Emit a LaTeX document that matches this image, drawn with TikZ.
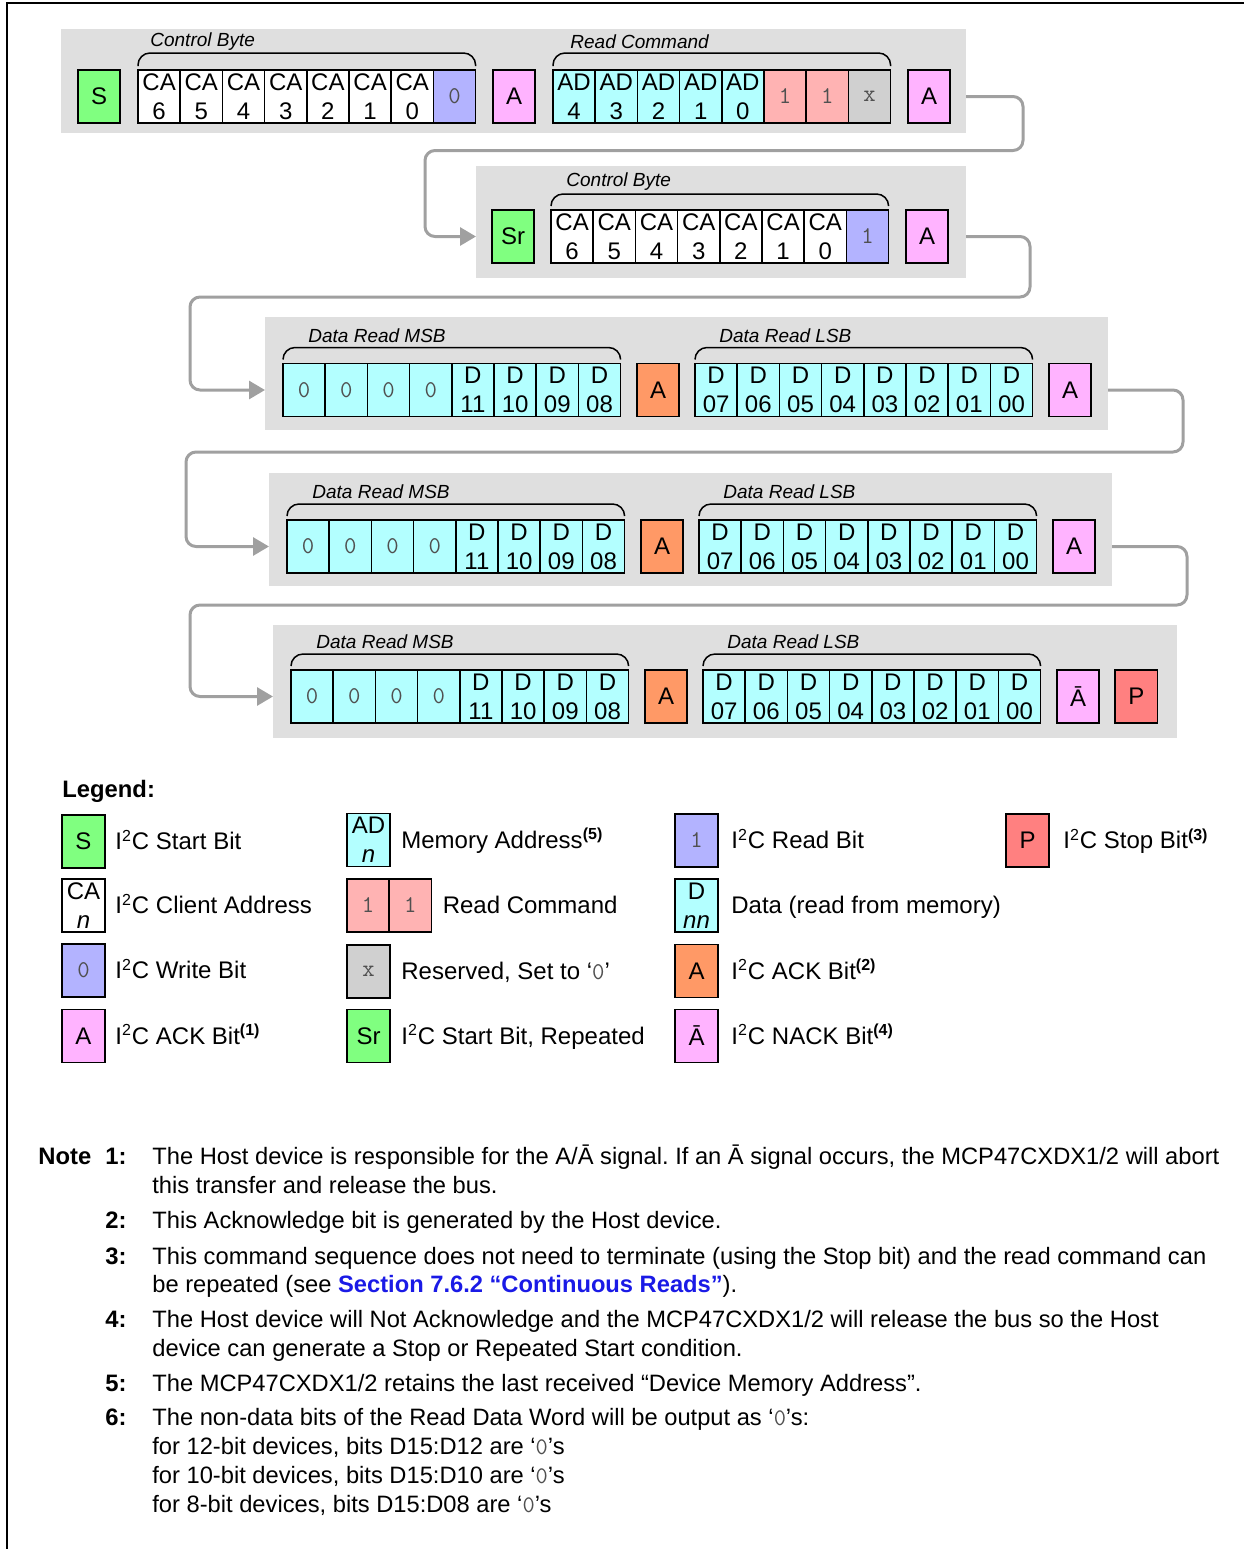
\documentclass[tikz,border=0pt]{standalone}
\usepackage{fontspec}
\setmainfont{Liberation Sans}
\usepackage{xcolor}
\usepackage{tikz}
\usetikzlibrary{arrows.meta, positioning}
\frenchspacing
\definecolor{bandgray}{HTML}{DFDFDF}
\definecolor{startgreen}{HTML}{80FF80}
\definecolor{rwblue}{HTML}{B3B3FF}
\definecolor{ackpink}{HTML}{FFB3FF}
\definecolor{hostorange}{HTML}{FF9966}
\definecolor{addrcyan}{HTML}{B3FFFF}
\definecolor{cmdsalmon}{HTML}{FFB3B3}
\definecolor{rsvgray}{HTML}{D0D0D0}
\definecolor{stopred}{HTML}{FF8080}
\definecolor{flowgray}{HTML}{A0A0A0}
\definecolor{monogray}{HTML}{505050}
\definecolor{linkblue}{HTML}{1A1AE6}
\tikzstyle{bit} = [rectangle, draw=black, line width=0.8pt,
  inner sep=0pt, outer sep=0pt, anchor=west, align=center,
  minimum width=21.1pt, minimum height=26.5pt,
  font=\fontsize{12}{14.5}\selectfont]
\tikzstyle{monobit} = [bit, text=monogray, font=\ttfamily\fontsize{12}{14.5}\selectfont]
\tikzstyle{startbit} = [bit, fill=startgreen]
\tikzstyle{cabit} = [bit, fill=white]
\tikzstyle{rwbit} = [monobit, fill=rwblue]
\tikzstyle{ackbit} = [bit, fill=ackpink]
\tikzstyle{hostack} = [bit, fill=hostorange]
\tikzstyle{addrbit} = [bit, fill=addrcyan]
\tikzstyle{databit} = [bit, fill=addrcyan]
\tikzstyle{zerobit} = [monobit, fill=addrcyan]
\tikzstyle{cmdbit} = [monobit, fill=cmdsalmon]
\tikzstyle{rsvbit} = [monobit, fill=rsvgray]
\tikzstyle{stopbit} = [bit, fill=stopred]
\tikzstyle{band} = [rectangle, fill=bandgray, inner sep=0pt, outer sep=0pt, anchor=north west]
\tikzstyle{brace} = [line width=0.75pt, rounded corners=6pt]
\tikzstyle{field} = [inner sep=0pt, anchor=west, font=\itshape\fontsize{9.5}{11}\selectfont]
\tikzstyle{flow} = [-{Triangle[length=8pt, width=9pt]}, color=flowgray, line width=1.5pt, rounded corners=5pt]
\tikzstyle{legtext} = [inner sep=0pt, anchor=base west, font=\fontsize{12}{14}\selectfont]
\tikzstyle{notenum} = [inner sep=0pt, anchor=base west, font=\bfseries\fontsize{11.9}{14}\selectfont]
\tikzstyle{notetext} = [inner sep=0pt, anchor=base west, font=\fontsize{11.85}{14}\selectfont]

\begin{document}
\begin{tikzpicture}[x=0.5pt, y=-0.5pt]
  \useasboundingbox (0,0) rectangle (1244,1549);
  \draw[line width=1pt] (7,1549) -- (7,3) -- (1244,3);

  % Control byte (write) + read command
  \node[band, minimum width=452.5pt, minimum height=52pt] (row1) at (61,29) {};
  \node[startbit] (s) at (78,96.5) {S};
  \foreach \n [count=\i from 0] in {6,5,4,3,2,1,0}
    \node[cabit] (ca\n) at ({138+42.2*\i},96.5) {CA\\\n};
  \node[rwbit, right=0pt of ca0] (wr) {0};
  \node[ackbit] (ack1) at (493,96.5) {A};
  \foreach \n [count=\i from 0] in {4,3,2,1,0}
    \node[addrbit] (ad\n) at ({553+42.2*\i},96.5) {AD\\\n};
  \node[cmdbit, right=0pt of ad0] (cmda) {1};
  \node[cmdbit, right=0pt of cmda] (cmdb) {1};
  \node[rsvbit, right=0pt of cmdb] (rsv) {x};
  \node[ackbit] (ack2) at (908,96.5) {A};
  \draw[brace] ([yshift=2pt]ca6.north west) |- ([yshift=8.5pt]wr.north east) -- ([yshift=2pt]wr.north east);
  \node[field] at ([xshift=6pt,yshift=14pt]ca6.north west) {Control Byte};
  \draw[brace] ([yshift=2pt]ad4.north west) |- ([yshift=8.5pt]rsv.north east) -- ([yshift=2pt]rsv.north east);
  \node[field] at ([xshift=8.5pt,yshift=14pt]ad4.north west) {Read Command};

  % Control byte (read)
  \node[band, minimum width=245pt, minimum height=56pt] (row2) at (476,166) {};
  \node[startbit] (sr) at (492,236.5) {Sr};
  \foreach \n [count=\i from 0] in {6,5,4,3,2,1,0}
    \node[cabit] (rca\n) at ({551+42.2*\i},236.5) {CA\\\n};
  \node[rwbit, right=0pt of rca0] (rd) {1};
  \node[ackbit] (ack3) at (906,236.5) {A};
  \draw[brace] ([yshift=2pt]rca6.north west) |- ([yshift=8pt]rd.north east) -- ([yshift=2pt]rd.north east);
  \node[field] at ([xshift=7.5pt,yshift=14pt]rca6.north west) {Control Byte};

  % Data words
  \foreach \row/\dx/\y/\ytop/\w in {3/0/390/317/421.5pt, 4/4/546.5/473/421.5pt, 5/8/696.5/625/452pt} {
    \node[band, minimum width=\w, minimum height=56.5pt] (row\row) at ({265+\dx},\ytop) {};
    \foreach \i in {0,...,3}
      \node[zerobit] (msb\row-\i) at ({283+\dx+42.2*\i},\y) {0};
    \foreach \n [count=\i from 4] in {11,10,09,08}
      \node[databit] (msb\row-\i) at ({283+\dx+42.2*\i},\y) {D\\\n};
    \node[hostack] (hack\row) at ({637+\dx},\y) {A};
    \foreach \n [count=\i from 0] in {07,06,05,04,03,02,01,00}
      \node[databit] (lsb\row-\i) at ({695+\dx+42.2*\i},\y) {D\\\n};
    \draw[brace] ([yshift=2pt]msb\row-0.north west) |- ([yshift=8pt]msb\row-7.north east) -- ([yshift=2pt]msb\row-7.north east);
    \node[field] at ([xshift=12.5pt,yshift=14pt]msb\row-0.north west) {Data Read MSB};
    \draw[brace] ([yshift=2pt]lsb\row-0.north west) |- ([yshift=8pt]lsb\row-7.north east) -- ([yshift=2pt]lsb\row-7.north east);
    \node[field] at ([xshift=12pt,yshift=14pt]lsb\row-0.north west) {Data Read LSB};
  }
  \node[ackbit] (ackp3) at (1049,390) {A};
  \node[ackbit] (ackp4) at (1053,546.5) {A};
  \node[ackbit] (nack5) at (1057,696.5) {Ā};
  \node[stopbit, right=8pt of nack5] (stop) {P};

  % Flow between rows
  \draw[flow] (row1.east |- ack2) -- ++(57,0) -- ++(0,54) -- ++(-598,0) |- (row2.west |- sr);
  \draw[flow] (row2.east |- ack3) -- ++(64,0) -- ++(0,60.5) -- ++(-840,0) |- (row3.west |- msb3-0);
  \draw[flow] (row3.east |- ackp3) -- ++(75,0) -- ++(0,62) -- ++(-997,0) |- (row4.west |- msb4-0);
  \draw[flow] (row4.east |- ackp4) -- ++(75,0) -- ++(0,58.5) -- ++(-997,0) |- (row5.west |- msb5-0);

  % Legend
  \node[notenum] (legend) at (62,797) {Legend:};
  \node[startbit, minimum width=21.5pt] (ls) at (62,841.5) {S};
  \node[legtext] at ([xshift=5pt,yshift=-4.2pt]ls.east) {I\textsuperscript{2}C Start Bit};
  \node[cabit, minimum width=21.5pt] (lca) at (62,905.5) {CA\\\textit{n}};
  \node[legtext] at ([xshift=5pt,yshift=-4.2pt]lca.east) {I\textsuperscript{2}C Client Address};
  \node[rwbit, minimum width=21.5pt] (lwr) at (62,970.5) {0};
  \node[legtext] at ([xshift=5pt,yshift=-4.2pt]lwr.east) {I\textsuperscript{2}C Write Bit};
  \node[ackbit, minimum width=21.5pt] (lack) at (62,1036) {A};
  \node[legtext] at ([xshift=5pt,yshift=-4.2pt]lack.east) {I\textsuperscript{2}C ACK Bit\textsuperscript{\textbf{(1)}}};

  \node[addrbit, minimum width=21.5pt] (lad) at (347,840) {AD\\\textit{n}};
  \node[legtext] at ([xshift=5.5pt,yshift=-4.2pt]lad.east) {Memory Address\textsuperscript{\textbf{(5)}}};
  \node[cmdbit] (lcmda) at (347,905.5) {1};
  \node[cmdbit, right=0pt of lcmda] (lcmdb) {1};
  \node[legtext] at ([xshift=5.5pt,yshift=-4.2pt]lcmdb.east) {Read Command};
  \node[rsvbit, minimum width=21.5pt] (lrsv) at (347,971.5) {x};
  \node[legtext] at ([xshift=5.5pt,yshift=-4.2pt]lrsv.east) {Reserved, Set to ‘\texttt{\color{monogray}0}’};
  \node[startbit, minimum width=21.5pt] (lsr) at (347,1036) {Sr};
  \node[legtext] at ([xshift=5.5pt,yshift=-4.2pt]lsr.east) {I\textsuperscript{2}C Start Bit, Repeated};

  \node[rwbit, minimum width=21.5pt] (lrd) at (675,840.5) {1};
  \node[legtext] at ([xshift=6.5pt,yshift=-4.2pt]lrd.east) {I\textsuperscript{2}C Read Bit};
  \node[databit, minimum width=21.5pt] (ldata) at (675,905.5) {D\\\textit{nn}};
  \node[legtext] at ([xshift=6.5pt,yshift=-4.2pt]ldata.east) {Data (read from memory)};
  \node[hostack, minimum width=21.5pt] (lhack) at (675,971) {A};
  \node[legtext] at ([xshift=6.5pt,yshift=-4.2pt]lhack.east) {I\textsuperscript{2}C ACK Bit\textsuperscript{\textbf{(2)}}};
  \node[ackbit, minimum width=21.5pt] (lnack) at (675,1036) {Ā};
  \node[legtext] at ([xshift=6.5pt,yshift=-4.2pt]lnack.east) {I\textsuperscript{2}C NACK Bit\textsuperscript{\textbf{(4)}}};

  \node[stopbit, minimum width=21.5pt] (lstop) at (1006,840.5) {P};
  \node[legtext] at ([xshift=7pt,yshift=-4.2pt]lstop.east) {I\textsuperscript{2}C Stop Bit\textsuperscript{\textbf{(3)}}};

  % Notes
  \node[notenum] (note) at (38,1164) {Note};
  \node[notenum] (k1) at (105,1164) {1:};
  \node[notetext] (t1a) at (152,1164) {The Host device is responsible for the A/Ā signal. If an Ā signal occurs, the MCP47CXDX1/2 will abort};
  \node[notetext] (t1b) at (152,1193) {this transfer and release the bus.};
  \node[notenum] (k2) at (105,1228) {2:};
  \node[notetext] (t2) at (152,1228) {This Acknowledge bit is generated by the Host device.};
  \node[notenum] (k3) at (105,1264) {3:};
  \node[notetext] (t3a) at (152,1264) {This command sequence does not need to terminate (using the Stop bit) and the read command can};
  \node[notetext] (t3b) at (152,1292) {be repeated (see \textcolor{linkblue}{\textbf{Section 7.6.2 “Continuous Reads”}}).};
  \node[notenum] (k4) at (105,1327) {4:};
  \node[notetext] (t4a) at (152,1327) {The Host device will Not Acknowledge and the MCP47CXDX1/2 will release the bus so the Host};
  \node[notetext] (t4b) at (152,1356) {device can generate a Stop or Repeated Start condition.};
  \node[notenum] (k5) at (105,1391) {5:};
  \node[notetext] (t5) at (152,1391) {The MCP47CXDX1/2 retains the last received “Device Memory Address”.};
  \node[notenum] (k6) at (105,1425) {6:};
  \node[notetext] (t6a) at (152,1425) {The non-data bits of the Read Data Word will be output as ‘\texttt{\color{monogray}0}’s:};
  \node[notetext] (t6b) at (152,1454) {for 12-bit devices, bits D15:D12 are ‘\texttt{\color{monogray}0}’s};
  \node[notetext] (t6c) at (152,1483) {for 10-bit devices, bits D15:D10 are ‘\texttt{\color{monogray}0}’s};
  \node[notetext] (t6d) at (152,1512) {for 8-bit devices, bits D15:D08 are ‘\texttt{\color{monogray}0}’s};

\end{tikzpicture}
\end{document}
